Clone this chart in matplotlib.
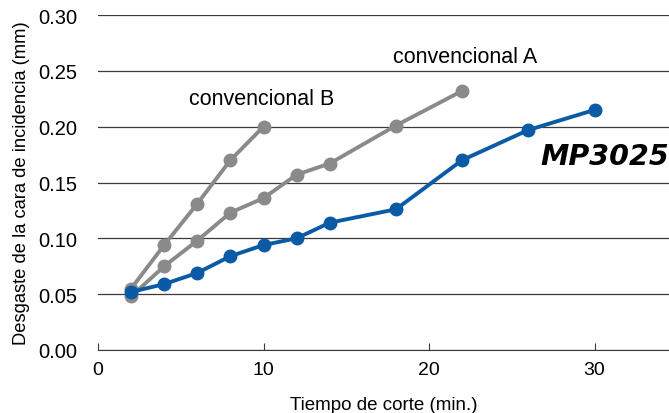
import matplotlib
matplotlib.use("Agg")
import matplotlib.pyplot as plt

plt.rcParams["font.family"] = ["Liberation Sans", "DejaVu Sans"]

# cutting time (min) and flank wear (mm)
time_b = [2, 4, 6, 8, 10]
wear_b = [0.055, 0.094, 0.131, 0.170, 0.200]

time_a = [2, 4, 6, 8, 10, 12, 14, 18, 22]
wear_a = [0.048, 0.075, 0.098, 0.123, 0.136, 0.157, 0.167, 0.201, 0.232]

time_mp = [2, 4, 6, 8, 10, 12, 14, 18, 22, 26, 30]
wear_mp = [0.052, 0.059, 0.069, 0.084, 0.094, 0.100, 0.114, 0.126, 0.170, 0.197, 0.215]

x_ticks = [0, 10, 20, 30]
y_ticks = [0.00, 0.05, 0.10, 0.15, 0.20, 0.25, 0.30]

GREY = "#8a8a8a"
BLUE = "#0b5aa6"

fig = plt.figure(figsize=(6.69, 4.14), dpi=100)
ax = fig.add_axes([98 / 669, 63 / 414, 571 / 669, 335 / 414])

for t, w, c in [(time_b, wear_b, GREY), (time_a, wear_a, GREY), (time_mp, wear_mp, BLUE)]:
    ax.plot(t, w, color=c, lw=2.8, marker="o", ms=9, zorder=3, clip_on=False)

ax.set_xlim(0, 571 / 16.55)
ax.set_ylim(0, 0.30)
ax.set_xticks(x_ticks)
ax.set_yticks(y_ticks)
ax.set_yticklabels([f"{v:.2f}" for v in y_ticks])
ax.grid(axis="y", color="#3a3a3a", lw=0.9)
ax.set_axisbelow(True)

for s in ["top", "right", "left"]:
    ax.spines[s].set_visible(False)
ax.spines["bottom"].set_color("#3a3a3a")
ax.tick_params(axis="x", direction="in", length=5, color="#3a3a3a", labelsize=14, pad=8)
ax.tick_params(axis="y", length=0, labelsize=14.5, pad=15)

ax.set_xlabel("Tiempo de corte (min.)", fontsize=13.5, labelpad=13)
ax.set_ylabel("Desgaste de la cara de incidencia (mm)", fontsize=13.2, labelpad=6)

ax.text(9.9, 0.225, "convencional B", fontsize=15.5, ha="center", va="center")
ax.text(22.2, 0.2625, "convencional A", fontsize=15.5, ha="center", va="center")
ax.text(1.0, 0.174, "MP3025", fontsize=20.5, fontweight="bold", style="italic",
        family="DejaVu Sans", ha="right", va="center", transform=ax.get_yaxis_transform())

fig.savefig("out.png", dpi=100)
